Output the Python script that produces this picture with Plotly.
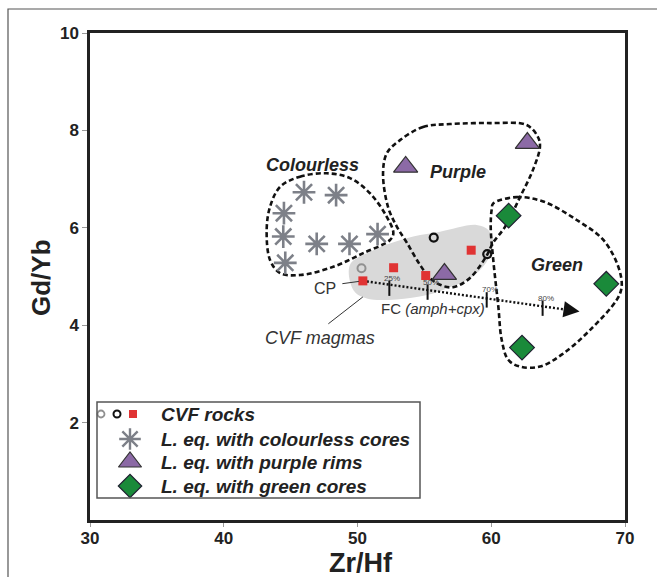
import plotly.graph_objects as go

# ---------------- data ----------------
cvf_grey_x = [50.3]
cvf_grey_y = [5.17]
cvf_black_x = [55.7, 59.7]
cvf_black_y = [5.80, 5.46]
cvf_red_x = [50.4, 52.7, 55.1, 58.5]
cvf_red_y = [4.91, 5.18, 5.02, 5.54]

colourless_x = [46.0, 48.4, 44.5, 44.45, 46.95, 49.4, 51.5, 44.6]
colourless_y = [6.73, 6.67, 6.30, 5.82, 5.67, 5.67, 5.87, 5.28]

purple_x = [53.6, 62.7, 56.5]
purple_y = [7.25, 7.74, 5.05]

green_x = [61.3, 68.6, 62.3]
green_y = [6.25, 4.85, 3.54]

# CVF magmas field
field_x = [49.44, 51.18, 54.17, 56.17, 58.9, 59.8, 60.15, 59.65, 58.4, 56.9, 55.2, 52.9, 50.7, 49.7]
field_y = [5.24, 5.54, 5.82, 5.92, 6.06, 5.95, 5.68, 5.30, 4.96, 4.78, 4.62, 4.53, 4.55, 4.72]

# group outlines
out_colourless_x = [44.21, 45.70, 47.70, 49.44, 50.93, 52.18, 52.68, 52.43, 50.43, 48.19, 45.70, 44.21, 43.46, 43.21, 43.46, 44.21]
out_colourless_y = [6.84, 7.05, 7.12, 7.02, 6.71, 6.23, 5.89, 5.75, 5.48, 5.20, 5.03, 5.07, 5.34, 5.95, 6.43, 6.84]
out_purple_x = [53.18, 54.90, 56.92, 59.91, 62.65, 63.50, 63.64, 63.12, 62.15, 61.03, 60.13, 59.68, 58.41, 57.14, 56.17, 55.42, 54.67, 53.70, 52.95, 52.28, 51.91, 52.21, 53.18]
out_purple_y = [7.80, 8.07, 8.13, 8.15, 8.11, 7.86, 7.66, 7.19, 6.63, 6.02, 5.69, 5.44, 4.97, 4.78, 4.83, 4.97, 5.24, 5.69, 6.02, 6.43, 7.13, 7.54, 7.80]
out_green_x = [60.15, 61.90, 63.89, 66.39, 68.38, 69.50, 69.75, 69.38, 67.38, 65.39, 63.64, 62.15, 61.27, 60.78, 60.53, 60.15, 59.96, 60.03, 60.15]
out_green_y = [6.50, 6.63, 6.54, 6.16, 5.75, 5.20, 4.79, 4.52, 3.90, 3.42, 3.15, 3.15, 3.29, 3.70, 4.38, 5.34, 6.02, 6.37, 6.50]

# fractional crystallisation path
fc_start = (50.4, 4.91)
fc_end = (66.6, 4.28)
fc_tick_x = [52.38, 55.24, 59.66, 63.84]
fc_tick_y = [4.76, 4.68, 4.52, 4.35]
fc_tick_labels = ["25%", "50%", "70%", "80%"]

x_ticks = [30, 40, 50, 60, 70]
y_ticks = [2, 4, 6, 8, 10]

# ---------------- figure ----------------
W, H = 657, 577
L, R, T, B = 90, 625, 33, 520
FONT = "Liberation Sans, Arial, sans-serif"

GREY_AST = "#7d8088"
PURPLE = "#8c6aa6"
GREEN = "#1a8a3a"
RED = "#e03333"


def px_x(p):
    return (p - L) / (R - L)


def px_y(p):
    return (B - p) / (B - T)


fig = go.Figure()

# grey field
fig.add_trace(go.Scatter(x=field_x + field_x[:1], y=field_y + field_y[:1], mode="lines",
                         fill="toself", fillcolor="#d9d9d9", line=dict(width=0, shape="spline"),
                         hoverinfo="skip", showlegend=False))

# outlines
for ox, oy in [(out_colourless_x, out_colourless_y), (out_purple_x, out_purple_y), (out_green_x, out_green_y)]:
    fig.add_trace(go.Scatter(x=ox, y=oy, mode="lines",
                             line=dict(color="#111", width=2.6, dash="5px,3px", shape="spline", smoothing=1.0),
                             hoverinfo="skip", showlegend=False))

# FC path
fig.add_trace(go.Scatter(x=[fc_start[0], fc_end[0] - 0.6], y=[fc_start[1], fc_end[1] + 0.023], mode="lines",
                         line=dict(color="#111", width=2.4, dash="2px,2px"),
                         hoverinfo="skip", showlegend=False))
fig.add_trace(go.Scatter(x=fc_tick_x, y=fc_tick_y, mode="markers",
                         marker=dict(symbol="line-ns-open", size=11, color="#111", line=dict(color="#111", width=2)),
                         hoverinfo="skip", showlegend=False))
fig.add_annotation(x=fc_end[0], y=fc_end[1], ax=fc_end[0] - 1.0, ay=fc_end[1] + 0.04,
                   xref="x", yref="y", axref="x", ayref="y", text="", showarrow=True,
                   arrowhead=2, arrowsize=1.6, arrowwidth=2, arrowcolor="#111")
for tx, ty, tl in zip(fc_tick_x, fc_tick_y, fc_tick_labels):
    fig.add_annotation(x=tx, y=ty, text=tl, showarrow=False, yshift=10, xshift=3,
                       font=dict(family=FONT, size=8, color="#444"))

# data markers
fig.add_trace(go.Scatter(x=colourless_x, y=colourless_y, mode="markers",
                         marker=dict(symbol="asterisk-open", size=19, color=GREY_AST,
                                     line=dict(color=GREY_AST, width=2.6)),
                         showlegend=False))
fig.add_trace(go.Scatter(x=cvf_grey_x, y=cvf_grey_y, mode="markers",
                         marker=dict(symbol="circle-open", size=8, color="#909090",
                                     line=dict(color="#909090", width=2)),
                         showlegend=False))
fig.add_trace(go.Scatter(x=cvf_black_x, y=cvf_black_y, mode="markers",
                         marker=dict(symbol="circle-open", size=8, color="#111",
                                     line=dict(color="#111", width=2.2)),
                         showlegend=False))
fig.add_trace(go.Scatter(x=cvf_red_x, y=cvf_red_y, mode="markers",
                         marker=dict(symbol="square", size=9, color=RED, line=dict(width=0)),
                         showlegend=False))
fig.add_trace(go.Scatter(x=purple_x, y=purple_y, mode="markers",
                         marker=dict(symbol="triangle-up", size=21, color=PURPLE, line=dict(color="#333", width=1.2)),
                         showlegend=False))
fig.add_trace(go.Scatter(x=green_x, y=green_y, mode="markers",
                         marker=dict(symbol="diamond", size=19, color=GREEN, line=dict(color="#223", width=1.2)),
                         showlegend=False))

# group labels
bi = dict(family=FONT, size=18, color="#222")
fig.add_annotation(x=46.6, y=7.29, text="<b><i>Colourless</i></b>", showarrow=False, font=bi)
fig.add_annotation(x=57.5, y=7.15, text="<b><i>Purple</i></b>", showarrow=False, font=bi)
fig.add_annotation(x=64.9, y=5.24, text="<b><i>Green</i></b>", showarrow=False, font=bi)

# CP label
fig.add_annotation(x=fc_start[0], y=fc_start[1], ax=-22, ay=3, text="", showarrow=True,
                   arrowhead=0, arrowwidth=1, arrowcolor="#333", standoff=4)
fig.add_annotation(x=fc_start[0], y=fc_start[1], text="CP", showarrow=False, xshift=-38, yshift=-8,
                   font=dict(family=FONT, size=16, color="#333"))
fig.add_annotation(x=55.65, y=4.35, text="FC <i>(amph+cpx)</i>", showarrow=False,
                   font=dict(family=FONT, size=15, color="#333"))
# CVF magmas label
fig.add_annotation(x=50.4, y=4.58, ax=-36, ay=28, text="", showarrow=True,
                   arrowhead=0, arrowwidth=1, arrowcolor="#333")
fig.add_annotation(x=47.2, y=3.74, text="<i>CVF magmas</i>", showarrow=False,
                   font=dict(family=FONT, size=18, color="#333"))

# ---------------- custom legend (pixel overlay axes) ----------------
fig.add_shape(type="rect", xref="paper", yref="paper",
              x0=px_x(97), x1=px_x(420), y0=px_y(402), y1=px_y(498),
              line=dict(color="#555", width=1.5), fillcolor="rgba(0,0,0,0)", layer="above")
leg_rows = [414, 439, 462, 486]
fig.add_trace(go.Scatter(x=[101], y=[leg_rows[0]], xaxis="x2", yaxis="y2", mode="markers",
                         marker=dict(symbol="circle-open", size=7, color="#909090",
                                     line=dict(color="#909090", width=1.8)),
                         showlegend=False, hoverinfo="skip"))
fig.add_trace(go.Scatter(x=[117], y=[leg_rows[0]], xaxis="x2", yaxis="y2", mode="markers",
                         marker=dict(symbol="circle-open", size=7, color="#111",
                                     line=dict(color="#111", width=2)),
                         showlegend=False, hoverinfo="skip"))
fig.add_trace(go.Scatter(x=[133], y=[leg_rows[0]], xaxis="x2", yaxis="y2", mode="markers",
                         marker=dict(symbol="square", size=8, color=RED),
                         showlegend=False, hoverinfo="skip"))
fig.add_trace(go.Scatter(x=[130], y=[leg_rows[1]], xaxis="x2", yaxis="y2", mode="markers",
                         marker=dict(symbol="asterisk-open", size=18, color=GREY_AST,
                                     line=dict(color=GREY_AST, width=2.4)),
                         showlegend=False, hoverinfo="skip"))
fig.add_trace(go.Scatter(x=[130], y=[leg_rows[2]], xaxis="x2", yaxis="y2", mode="markers",
                         marker=dict(symbol="triangle-up", size=20, color=PURPLE, line=dict(color="#333", width=1.2)),
                         showlegend=False, hoverinfo="skip"))
fig.add_trace(go.Scatter(x=[130], y=[leg_rows[3]], xaxis="x2", yaxis="y2", mode="markers",
                         marker=dict(symbol="diamond", size=18, color=GREEN, line=dict(color="#223", width=1.2)),
                         showlegend=False, hoverinfo="skip"))
leg_texts = ["CVF rocks", "L. eq. with colourless cores", "L. eq. with purple rims", "L. eq. with green cores"]
for ry, tx in zip(leg_rows, leg_texts):
    fig.add_annotation(x=px_x(159), y=px_y(ry), xref="paper", yref="paper", xanchor="left", yanchor="middle",
                       text="<b><i>" + tx + "</i></b>", showarrow=False,
                       font=dict(family=FONT, size=19, color="#222"))

# axis titles
fig.add_annotation(x=px_x(361), y=px_y(563), xref="paper", yref="paper", text="<b>Zr/Hf</b>",
                   xanchor="center", yanchor="middle",
                   showarrow=False, font=dict(family=FONT, size=27, color="#222"))
fig.add_annotation(x=px_x(41), y=px_y(278), xref="paper", yref="paper", text="<b>Gd/Yb</b>",
                   xanchor="center", yanchor="middle",
                   textangle=-90, showarrow=False, font=dict(family=FONT, size=26, color="#222"))

# outer frame
fig.add_shape(type="rect", xref="paper", yref="paper",
              x0=px_x(8), x1=px_x(700), y0=px_y(9), y1=px_y(620),
              line=dict(color="#555", width=1.2), layer="below")

axis_common = dict(showline=True, mirror=True, linecolor="#222", linewidth=2.5,
                   ticks="outside", tickcolor="#999", tickwidth=1,
                   showgrid=False, zeroline=False, automargin=False,
                   tickfont=dict(family=FONT, size=17, color="#222", weight="bold"))

fig.update_layout(
    width=W, height=H,
    margin=dict(l=L, r=W - R, t=T, b=H - B, autoexpand=False),
    paper_bgcolor="white", plot_bgcolor="white",
    showlegend=False,
    xaxis=dict(range=[30, 70], tickvals=x_ticks, ticklen=4, ticklabelstandoff=-3, **axis_common),
    yaxis=dict(range=[0, 10], tickvals=y_ticks, ticklen=5, **axis_common),
    xaxis2=dict(range=[L, R], overlaying="x", visible=False, fixedrange=True),
    yaxis2=dict(range=[B, T], overlaying="y", visible=False, fixedrange=True),
)

fig.write_html("out.html", config={"displayModeBar": False},
               post_script="document.body.style.margin='0px';")
